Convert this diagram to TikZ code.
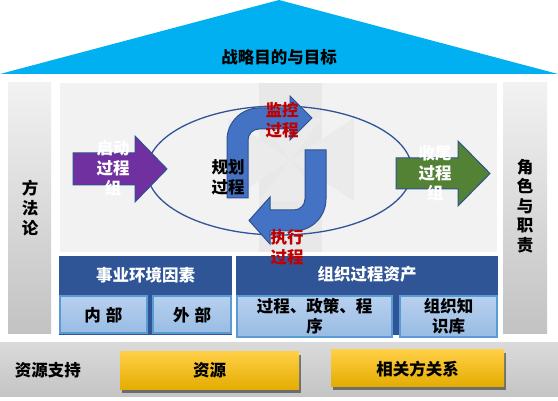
\documentclass[tikz,border=0pt]{standalone}
\usepackage{fontspec}
\setmainfont{Noto Sans CJK SC}
\usetikzlibrary{shadows}
\definecolor{triCyan}{HTML}{00B0F0}
\definecolor{barTop}{HTML}{F2F2F2}
\definecolor{barBot}{HTML}{C2C2C2}
\definecolor{panelGray}{HTML}{F2F2F2}
\definecolor{faintGray}{HTML}{E8E8E8}
\definecolor{faintSide}{HTML}{EBEBEB}
\definecolor{ellBlue}{HTML}{2F5597}
\definecolor{arrowBlue}{HTML}{4472C4}
\definecolor{arrowEdge}{HTML}{2F528F}
\definecolor{purpleA}{HTML}{7030A0}
\definecolor{greenA}{HTML}{548235}
\definecolor{darkBlue}{HTML}{2F5597}
\definecolor{subTop}{HTML}{B8D0EE}
\definecolor{subBot}{HTML}{98BCE4}
\definecolor{subEdge}{HTML}{5B9BD5}
\definecolor{bandTop}{HTML}{DADADA}
\definecolor{bandBot}{HTML}{C4C4C4}
\definecolor{yTop}{HTML}{FFCF45}
\definecolor{yMid}{HTML}{FFC000}
\definecolor{yBot}{HTML}{E3AC00}
\definecolor{redT}{HTML}{C00000}
\tikzset{
  txt/.style={font=\bfseries\fontsize{16.5}{20}\selectfont, align=center, inner sep=0pt},
  sidebar/.style={top color=barTop, bottom color=barBot, draw=none},
  flowarrow/.style={draw=arrowEdge, line width=1pt, line join=miter},
  subbox/.style={top color=subTop, bottom color=subBot, draw=subEdge, line width=1.5pt},
  yellowbox/.style={top color=yTop, middle color=yMid, bottom color=yBot, draw=none,
     drop shadow={shadow xshift=2pt, shadow yshift=-3pt, opacity=0.45, fill=black}},
}
\begin{document}
\begin{tikzpicture}[x=1pt,y=-1pt]
\useasboundingbox (0,0) rectangle (558,401);
\fill[white] (0,0) rectangle (558,401);

% top triangle
\fill[triCyan] (0,74) -- (279,0) -- (558,74) -- cycle;
\node[txt] (goal) at (279,57) {战略目的与目标};

% side bars
\shade[sidebar] (8,83) rectangle (51,334);
\node[txt] (method) at (30,208) {方\\法\\论};
\shade[sidebar] (503,83) rectangle (547,334);
\node[txt, font=\bfseries\fontsize{16.5}{19.5}\selectfont] (roles) at (525,206) {角\\色\\与\\职\\责};

% main panel
\fill[panelGray] (60,83) rectangle (497,252);

% faint background cross
\fill[faintGray] (259,83) rectangle (322,252);
\fill[faintSide] (228,118) -- (290.5,160) -- (228,201) -- cycle;
\fill[faintSide] (354,118) -- (290.5,160) -- (354,201) -- cycle;
\fill[faintSide] (259,118) -- (322,118) -- (290.5,160) -- cycle;
\fill[faintSide] (259,201) -- (322,201) -- (290.5,160) -- cycle;

% ellipse
\draw[ellBlue, line width=1.3pt] (279.5,170.5) ellipse [x radius=132.5, y radius=64.5];

% initiating arrow
\draw[flowarrow, fill=purpleA] (73,153) -- (135,153) -- (135,136) -- (167,169)
  -- (135,202) -- (135,185) -- (73,185) -- cycle;
% closing arrow
\draw[flowarrow, fill=greenA] (396,158) -- (458,158) -- (458,141) -- (490,173.5)
  -- (458,206) -- (458,189) -- (396,189) -- cycle;

% upper U arrow (planning -> monitoring)
\draw[flowarrow, fill=arrowBlue] (227,198) -- (227,140)
  arc[start angle=180, end angle=270, radius=32] -- (290,108) -- (290,96)
  -- (312,118) -- (290,140) -- (290,129) -- (259,129)
  arc[start angle=270, end angle=180, radius=11] -- (248,198) -- cycle;
% lower U arrow (executing)
\draw[flowarrow, fill=arrowBlue] (305,150) -- (326,150) -- (326,199)
  arc[start angle=0, end angle=90, radius=32] -- (270,231) -- (270,244)
  -- (249,220.5) -- (270,197) -- (270,210) -- (294,210)
  arc[start angle=90, end angle=0, radius=11] -- cycle;

% enterprise environmental factors
\fill[darkBlue] (59,256) rectangle (232,335);
\node[txt, text=white] (eef) at (145.5,275) {事业环境因素};
\shade[subbox] (60,296) rectangle (147,333);
\node[txt] (internal) at (103.5,315) {内\hspace{5pt}部};
\shade[subbox] (153,296) rectangle (231,333);
\node[txt] (external) at (192,315) {外\hspace{5pt}部};

% organizational process assets
\fill[darkBlue] (236,256) rectangle (498,335);
\node[txt, text=white] (opa) at (367,274) {组织过程资产};
\shade[subbox] (237,296) rectangle (392,337);
\node[txt] (policy) at (314.5,316) {过程、政策、程\\序};
\shade[subbox] (400,296) rectangle (497,337);
\node[txt] (kb) at (448.5,316) {组织知\\识库};

% resource band
\shade[top color=bandTop, bottom color=bandBot] (0,343) rectangle (558,397);
\node[txt] (support) at (48,370) {资源支持};
\shade[yellowbox] (120,352) rectangle (299,390);
\node[txt] (res) at (209.5,370) {资源};
\shade[yellowbox] (331,350) rectangle (504,387);
\node[txt] (stake) at (417.5,369) {相关方关系};

% process texts
\node[txt, text=white] (init) at (113,168) {启动\\过程\\组};
\node[txt, text=white] (close) at (435,173) {收尾\\过程\\组};
\node[txt, text=redT] (monitor) at (282,120.5) {监控\\过程};
\node[txt] (plan) at (228,177.5) {规划\\过程};
\node[txt, text=redT] (exec) at (287,247) {执行\\过程};
\end{tikzpicture}
\end{document}
